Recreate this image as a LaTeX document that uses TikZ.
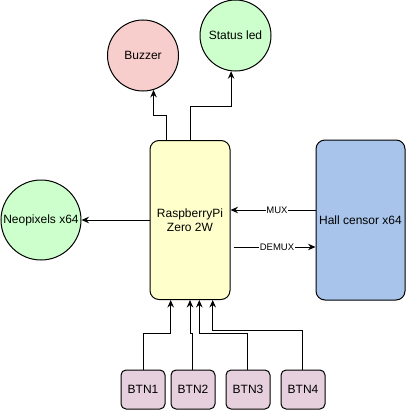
\documentclass[tikz,border=0pt]{standalone}
\usepackage{fontspec}
\setmainfont{Liberation Sans}
\usetikzlibrary{arrows.meta}
\definecolor{redfill}{HTML}{F8CECC}
\definecolor{greenfill}{HTML}{CCFFCC}
\definecolor{yellowfill}{HTML}{FFFFCC}
\definecolor{bluefill}{HTML}{A9C4EB}
\definecolor{pinkfill}{HTML}{E6D0DE}
\tikzset{
  base/.style={draw=black, line width=1pt, font=\fontsize{12}{14}\selectfont, inner sep=0pt, align=center},
  roundnode/.style={base, circle},
  bigbox/.style={base, rectangle, rounded corners=9pt},
  btnbox/.style={base, rectangle, rounded corners=5pt, minimum width=44pt, minimum height=39pt, fill=pinkfill},
  arr/.style={line width=1pt, draw=black, -{Stealth[length=7.5pt,width=6.5pt,inset=2.5pt]}},
  lab/.style={fill=white, inner sep=0.5pt, font=\fontsize{9.5}{11}\selectfont}
}
\begin{document}
\begin{tikzpicture}[x=1pt,y=-1pt]
\useasboundingbox (0,0) rectangle (406,412);
\node[roundnode, fill=redfill, minimum size=71pt] (buzzer) at (143,55.5) {Buzzer};
\node[roundnode, fill=greenfill, minimum size=71pt] (led) at (235.5,35.5) {Status led};
\node[roundnode, fill=greenfill, minimum size=80pt] (neo) at (41,220) {Neopixels x64};
\node[bigbox, fill=yellowfill, minimum width=80pt, minimum height=159pt] (pi) at (190,220) {RaspberryPi\\Zero 2W};
\node[bigbox, fill=bluefill, minimum width=89pt, minimum height=160pt] (hall) at (360.5,220) {Hall censor x64};
\node[btnbox] (btn1) at (143,389.5) {BTN1};
\node[btnbox] (btn2) at (193,389.5) {BTN2};
\node[btnbox] (btn3) at (248,389.5) {BTN3};
\node[btnbox] (btn4) at (303,389.5) {BTN4};

\draw[arr] ([xshift=-24pt]pi.north) -- ++(0,-25) -| (buzzer.-73.6);
\draw[arr] (pi.north) -- ++(0,-34) -| (led.-97.8);
\draw[arr] (pi.west) -- (neo.east);
\draw[arr] ([yshift=10pt]hall.west) -- node[lab, pos=0.453] {MUX} ([yshift=10pt]pi.east);
\draw[arr] ([xshift=3pt,yshift=-27pt]pi.east) -- node[lab, pos=0.53] {DEMUX} ([yshift=-27pt]hall.west);

\draw[arr] (btn1.north) -- ++(0,-36) -| ([xshift=-19.3pt]pi.south);
\draw[arr] ([xshift=-0.3pt]btn2.north) -- ++(0,-36) -| (pi.south);
\draw[arr] ([xshift=-0.3pt]btn3.north) -- ++(0,-36) -| ([xshift=9.3pt]pi.south);
\draw[arr] ([xshift=-0.7pt]btn4.north) -- ++(0,-39.3) -| ([xshift=22.7pt]pi.south);
\end{tikzpicture}
\end{document}
